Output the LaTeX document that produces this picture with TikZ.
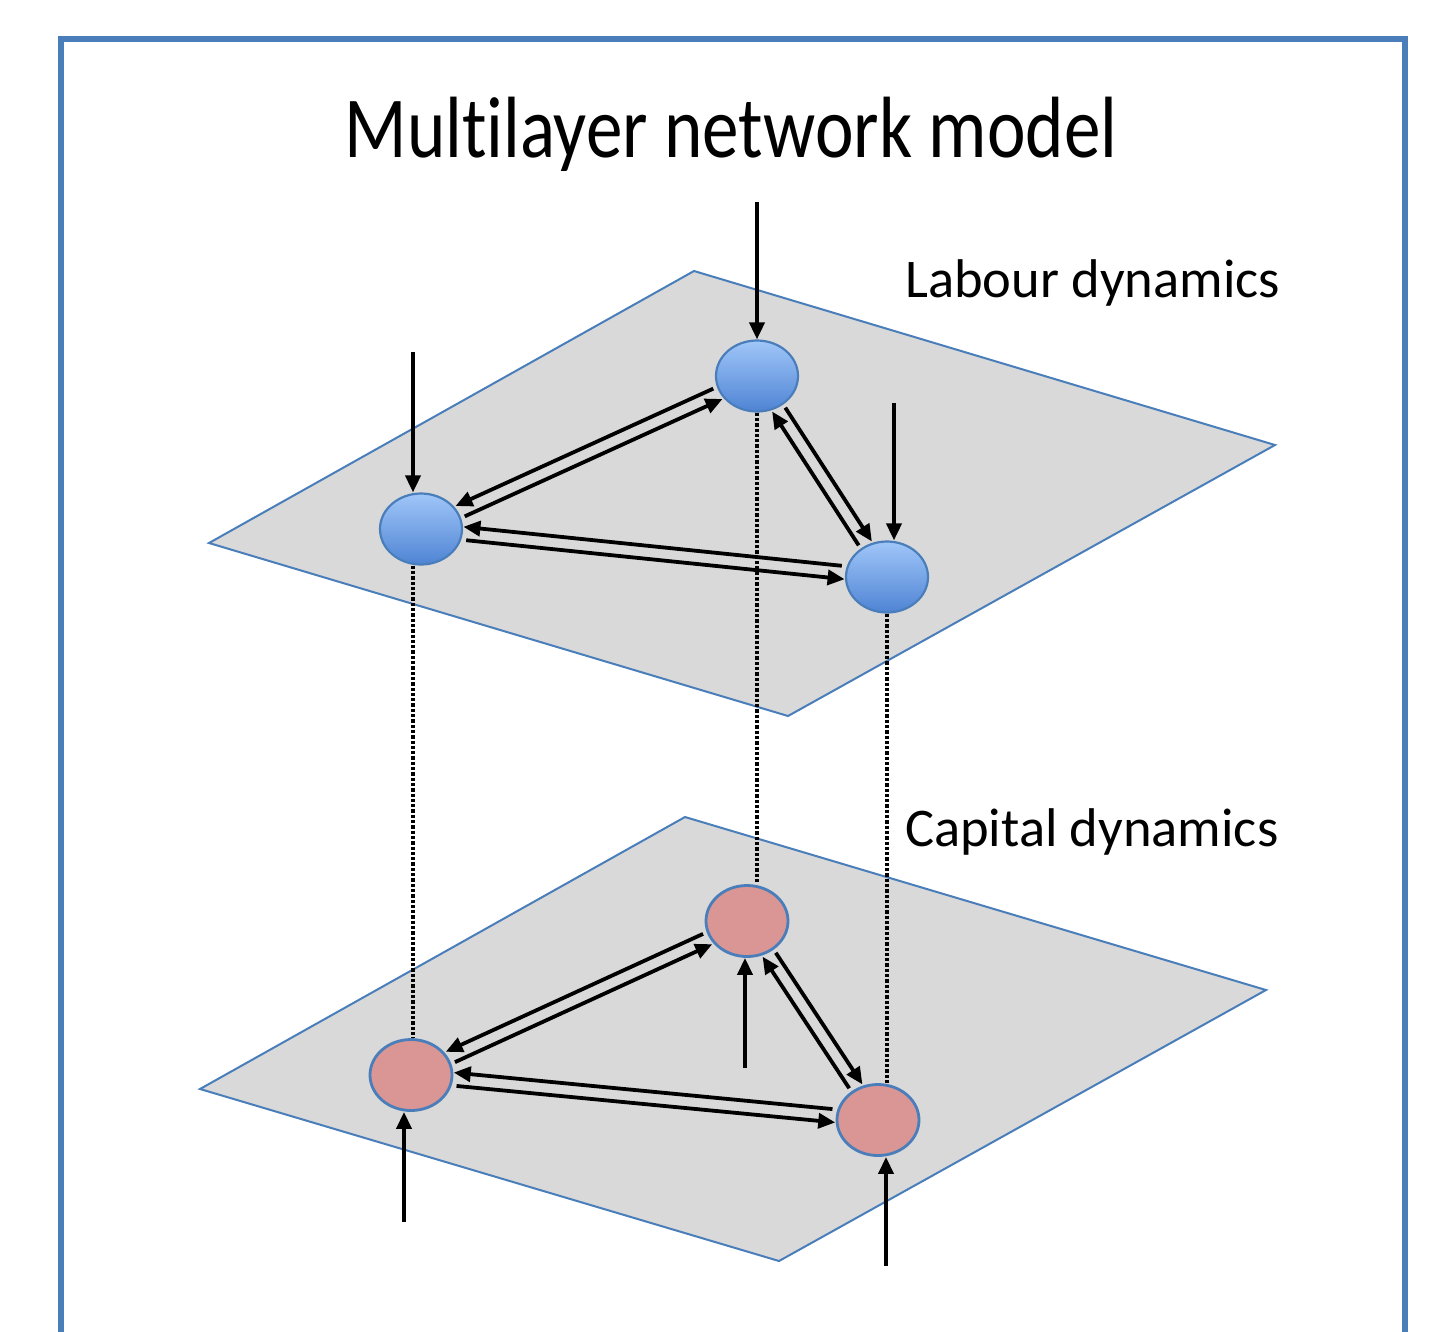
\documentclass[tikz,border=0pt]{standalone}
\usepackage{fontspec}
\setmainfont{Carlito}[Ligatures=NoCommon]
\usepackage{tikz}
\usetikzlibrary{shapes.geometric, arrows.meta}

\definecolor{edgeblue}{HTML}{4A7EBB}
\definecolor{planegray}{HTML}{D9D9D9}
\definecolor{nodetop}{HTML}{A0C6F8}
\definecolor{nodebot}{HTML}{4F84D4}
\definecolor{nodepink}{HTML}{D99694}

\tikzset{
  plane/.style={fill=planegray, draw=edgeblue, line width=2pt},
  labour/.style={ellipse, draw=edgeblue, line width=2.2pt, inner sep=0pt,
    minimum width=82pt, minimum height=71pt, top color=nodetop, bottom color=nodebot},
  capital/.style={ellipse, draw=edgeblue, line width=2.8pt, inner sep=0pt,
    minimum width=82pt, minimum height=71pt, fill=nodepink},
  arr/.style={-{Triangle[length=17pt,width=15pt]}, line width=3.8pt},
  link/.style={arr, shorten <=4pt},
  tie/.style={line width=3.3pt, dash pattern=on 3.3pt off 2pt}
}

\begin{document}
\begin{tikzpicture}[x=1pt, y=-1pt]
        \useasboundingbox (0,0) rectangle (1448,1331);

        % frame
        \draw[edgeblue, line width=6pt] (61,1345) -- (61,39) -- (1405,39) -- (1405,1345);

        % title
        \node[anchor=base, inner sep=0pt, font=\fontsize{87}{100}\selectfont, xscale=0.84] (title) at (731,157) {Multilayer network model};

        % Labour layer
        \draw[plane] (694,271) -- (1275,445) -- (788,716) -- (209,543) -- cycle;
        \node[anchor=base west, inner sep=0pt, font=\fontsize{54.5}{60}\selectfont] (labourlbl) at (905,297) {Labour dynamics};

        \node[labour] (lt) at (757,376) {};
        \node[labour] (ll) at (421,529) {};
        \node[labour] (lr) at (887,577) {};

        \coordinate (lt-in) at (757,202);
        \coordinate (ll-in) at (413,352);
        \coordinate (lr-in) at (894,403);
        \draw[arr] (lt-in) -- (lt);
        \draw[arr] (ll-in) -- (ll-in |- ll.north);
        \draw[arr] (lr-in) -- (lr-in |- lr.north);

        \draw[link, transform canvas={shift={(-2.8,-6)}}] (lt) -- (ll);
        \draw[link, transform canvas={shift={(2.8,6)}}] (ll) -- (lt);
        \draw[link, transform canvas={shift={(5.5,-3.6)}}] (lt) -- (lr);
        \draw[link, transform canvas={shift={(-5.5,3.6)}}] (lr) -- (lt);
        \draw[link, transform canvas={shift={(0.6,-6.5)}}] (lr) -- (ll);
        \draw[link, transform canvas={shift={(-0.6,6.5)}}] (ll) -- (lr);

        % Capital layer
        \draw[plane] (685,817) -- (1266,990) -- (779,1261) -- (200,1089) -- cycle;
        \node[anchor=base west, inner sep=0pt, font=\fontsize{54.5}{60}\selectfont] (capitallbl) at (905,846) {Capital dynamics};

        \node[capital] (ct) at (747,921) {};
        \node[capital] (cl) at (411,1075) {};
        \node[capital] (cr) at (878,1120) {};

        \coordinate (ct-in) at (745,1068);
        \coordinate (cl-in) at (404,1222);
        \coordinate (cr-in) at (886,1266);
        \draw[arr] (ct-in) -- (ct-in |- ct.south);
        \draw[arr] (cl-in) -- (cl-in |- cl.south);
        \draw[arr] (cr-in) -- (cr-in |- cr.south);

        \draw[link, transform canvas={shift={(-2.8,-6)}}] (ct) -- (cl);
        \draw[link, transform canvas={shift={(2.8,6)}}] (cl) -- (ct);
        \draw[link, transform canvas={shift={(5.5,-3.6)}}] (ct) -- (cr);
        \draw[link, transform canvas={shift={(-5.5,3.6)}}] (cr) -- (ct);
        \draw[link, transform canvas={shift={(0.6,-6.5)}}] (cr) -- (cl);
        \draw[link, transform canvas={shift={(-0.6,6.5)}}] (cl) -- (cr);

        % links between the layers
        \draw[tie] (ll-in |- ll.south) -- (ll-in |- cl.north);
        \draw[tie] (lt.south) -- (lt.south |- ct.north);
        \draw[tie] (lr.south) -- (lr.south |- cr.north);
\end{tikzpicture}
\end{document}
